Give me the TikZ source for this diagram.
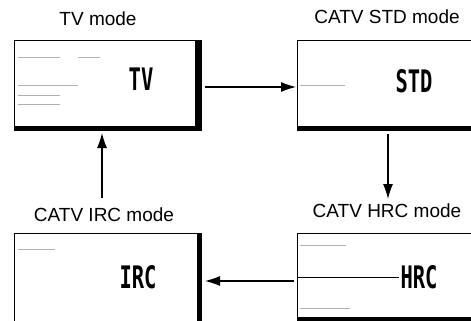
\documentclass[tikz,border=0pt]{standalone}
\usepackage{fontspec}
\setmainfont{Liberation Sans}
\newfontfamily\lcdfont{DejaVu Sans Mono}
\usetikzlibrary{arrows.meta}
\begin{document}
\begin{tikzpicture}[x=1pt,y=-1pt,
  screen/.style={draw=black,line width=0.9pt,inner sep=0pt,anchor=north west},
  modelabel/.style={font=\fontsize{19}{21}\selectfont,inner sep=0pt},
  screentext/.style={font=\lcdfont\bfseries\fontsize{31}{33}\selectfont,xscale=0.66,inner sep=0pt},
  arr/.style={line width=1.1pt,-{Latex[length=15pt,width=10pt]}},
  speck/.style={gray!60,line width=0.5pt}]
\useasboundingbox (0,0) rectangle (471,321);
\clip (0,0) rectangle (471,321);
% screens
\node[screen,minimum width=187pt,minimum height=90pt] (tv) at (14,40) {};
\node[screen,minimum width=190pt,minimum height=90pt] (std) at (297,40) {};
\node[screen,minimum width=190pt,minimum height=95pt] (hrc) at (297,233) {};
\node[screen,minimum width=187pt,minimum height=95pt] (irc) at (14,233) {};
% shadows
\fill ([xshift=-7pt]tv.north east) rectangle (tv.south east);
\fill ([yshift=5pt]tv.south west) rectangle (tv.south east);
\fill ([yshift=5pt]std.south west) rectangle (std.south east);
\fill ([xshift=-5pt]irc.north east) rectangle (irc.south east);
\fill (297,317) rectangle (471,321);
% faint scan content
\draw[speck] (18,57) -- (60,57) (78,57) -- (100,57);
\draw[speck] (18,85) -- (78,85);
\draw[speck] (18,95) -- (60,95);
\draw[speck] (18,104) -- (60,104);
\draw[speck] (300,85) -- (345,85);
\draw[speck] (300,245) -- (346,245);
\draw[speck] (18,249) -- (55,249);
\draw[speck] (300,308) -- (350,308);
% texts
\node[modelabel] (tvlab) at (98,19) {TV mode};
\node[modelabel] (stdlab) at (387,17) {CATV STD mode};
\node[modelabel] (hrclab) at (387,211) {CATV HRC mode};
\node[modelabel] (irclab) at (104,215) {CATV IRC mode};
\node[screentext] (tvtxt) at (141,79) {TV};
\node[screentext] (stdtxt) at (414,81) {STD};
\node[screentext] (irctxt) at (138,277) {IRC};
\node[screentext] (hrctxt) at (419,277) {HRC};
\draw[line width=0.6pt] (hrc.west |- hrctxt.west) -- ([xshift=-1pt]hrctxt.west);
% arrows
\coordinate (a1) at (205,87);
\coordinate (b1) at (296,87);
\draw[arr] (a1) -- (b1);
\coordinate (a2) at (388,134);
\coordinate (b2) at (388,199);
\draw[arr] (a2) -- (b2);
\coordinate (a3) at (294,281);
\coordinate (b3) at (205,281);
\draw[arr] (a3) -- (b3);
\coordinate (a4) at (102,198);
\coordinate (b4) at (102,133);
\draw[arr] (a4) -- (b4);
\end{tikzpicture}
\end{document}
